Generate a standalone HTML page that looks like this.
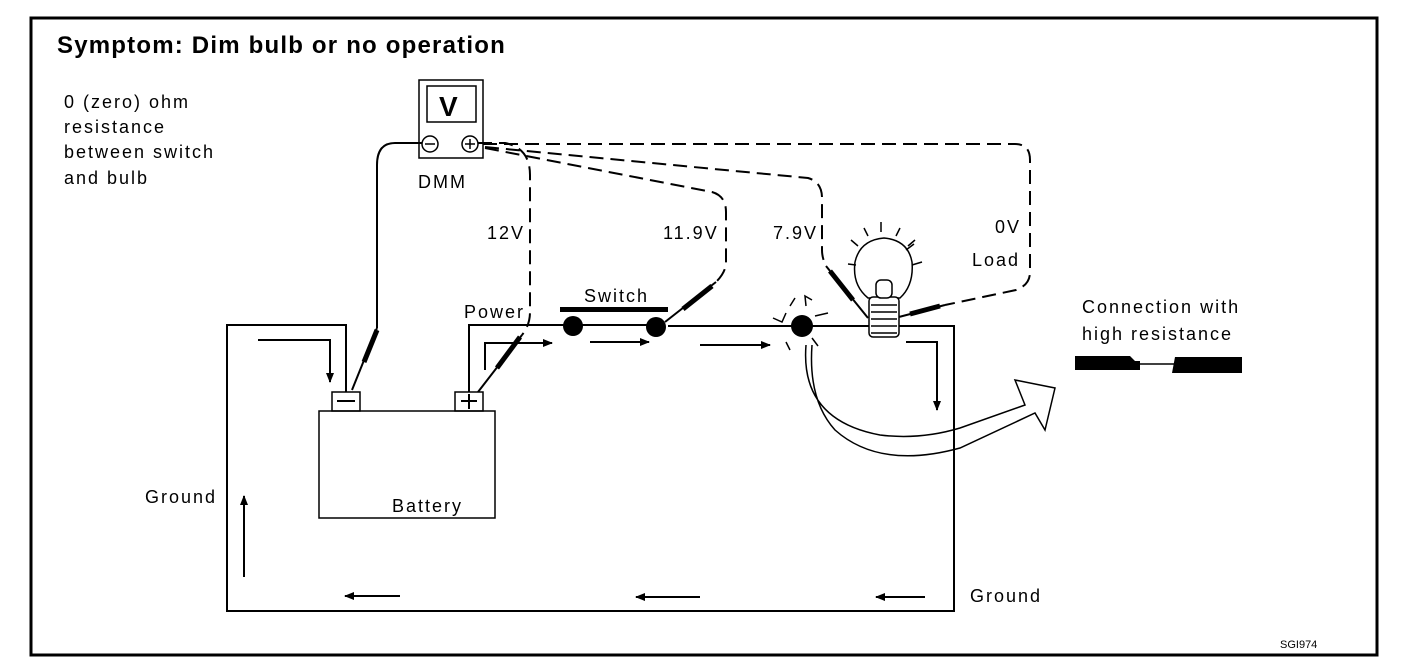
<!DOCTYPE html>
<html><head><style>
html,body{margin:0;padding:0;background:#fff;}
svg{display:block;}
text{font-family:"Liberation Sans",Arial,sans-serif;fill:#000;}
</style></head><body>
<svg width="1408" height="670" viewBox="0 0 1408 670" xmlns="http://www.w3.org/2000/svg">
<defs>
<marker id="ah" markerWidth="10" markerHeight="8" refX="9" refY="4" orient="auto" markerUnits="userSpaceOnUse"><path d="M0,0 L10,4 L0,8 Z" fill="#000"/></marker>
</defs>
<rect x="0" y="0" width="1408" height="670" fill="#fff"/>
<rect x="31" y="18" width="1346" height="637" fill="none" stroke="#000" stroke-width="3"/>
<text x="57" y="53" font-size="24" font-weight="bold" letter-spacing="1.2">Symptom: Dim bulb or no operation</text>
<g font-size="18" letter-spacing="2">
<text x="64" y="108">0 (zero) ohm</text>
<text x="64" y="133">resistance</text>
<text x="64" y="158">between switch</text>
<text x="64" y="184">and bulb</text>
<text x="418" y="188">DMM</text>
<text x="487" y="239">12V</text>
<text x="663" y="239">11.9V</text>
<text x="773" y="239">7.9V</text>
<text x="995" y="233">0V</text>
<text x="972" y="266">Load</text>
<text x="464" y="318">Power</text>
<text x="584" y="302">Switch</text>
<text x="1082" y="313">Connection with</text>
<text x="1082" y="340">high resistance</text>
<text x="145" y="503">Ground</text>
<text x="392" y="512">Battery</text>
<text x="970" y="602">Ground</text>
</g>
<text x="1280" y="648" font-size="11">SGI974</text>
<!-- DMM -->
<rect x="419" y="80" width="64" height="78" fill="none" stroke="#000" stroke-width="1.5"/>
<rect x="427" y="86" width="49" height="36" fill="none" stroke="#000" stroke-width="1.5"/>
<text x="439" y="116" font-size="28" font-weight="bold">V</text>
<circle cx="430" cy="144" r="8" fill="none" stroke="#000" stroke-width="1.5"/>
<line x1="425" y1="144" x2="435" y2="144" stroke="#000" stroke-width="1.5"/>
<circle cx="470" cy="144" r="8" fill="none" stroke="#000" stroke-width="1.5"/>
<path d="M465,144 H475 M470,139 V149" stroke="#000" stroke-width="1.5"/>
<!-- negative lead -->
<path d="M422,143 H395 Q377,143 377,165 V328" fill="none" stroke="#000" stroke-width="2"/>
<path d="M377,328 L352,390" stroke="#000" stroke-width="2"/>
<path d="M377,330 L364,362" stroke="#000" stroke-width="5"/>
<!-- dashed leads -->
<g fill="none" stroke="#000" stroke-width="2" stroke-dasharray="14,7">
<path d="M478,143 H505 Q530,148 530,175 V312 Q530,325 522,335"/>
<path d="M485,148 L712,192 Q726,196 726,212 V262 Q726,272 716,282"/>
<path d="M485,147 L808,178 Q822,182 822,198 V250 Q822,258 826,266"/>
<path d="M483,144 H1015 Q1030,144 1030,160 V272 Q1030,285 1016,290 L945,305"/>
</g>
<!-- probes -->
<g stroke="#000">
<path d="M522,335 L478,392" stroke-width="2"/><path d="M520,337 L497,368" stroke-width="5"/>
<path d="M716,282 L665,322" stroke-width="2"/><path d="M712,286 L683,309" stroke-width="5"/>
<path d="M826,266 L868,318" stroke-width="2"/><path d="M830,271 L853,300" stroke-width="5"/>
<path d="M945,305 L895,318" stroke-width="2"/><path d="M940,306 L910,314" stroke-width="5"/>
</g>
<!-- circuit -->
<g fill="none" stroke="#000" stroke-width="2">
<path d="M346,392 V325 H227 V611 H954 V326 H668"/>
<path d="M469,392 V325 H565"/>
<path d="M580,325 H648"/>
<rect x="332" y="392" width="28" height="19" stroke-width="1.5"/>
<rect x="455" y="392" width="28" height="19" stroke-width="1.5"/>
<rect x="319" y="411" width="176" height="107" stroke-width="1.5"/>
</g>
<path d="M337,401 H355" stroke="#000" stroke-width="2"/>
<path d="M461,401 H477 M469,394 V409" stroke="#000" stroke-width="2"/>
<!-- switch -->
<rect x="560" y="307" width="108" height="5" fill="#000"/>
<circle cx="573" cy="326" r="10" fill="#000"/>
<circle cx="656" cy="327" r="10" fill="#000"/>
<circle cx="802" cy="326" r="11" fill="#000"/>
<!-- sparks -->
<g stroke="#000" stroke-width="1.5" fill="none">
<path d="M773,318 L782,322 L786,313 M790,306 L795,298 M806,306 L805,296 L812,300 M815,316 L828,313 M786,342 L790,350 M812,338 L818,346"/>
</g>
<!-- bulb -->
<g stroke="#000" stroke-width="1.5" fill="#fff">
<path d="M868,298 Q852,285 855,262 Q860,240 884,238 Q908,240 912,262 Q914,285 900,298 Z"/>
<rect x="869" y="297" width="30" height="40" rx="4"/>
<path d="M871,305 H897 M871,312 H897 M871,319 H897 M871,326 H897 M871,333 H897" fill="none"/>
<rect x="876" y="280" width="16" height="18" rx="5"/>
<path d="M881,222 V232 M864,228 L868,236 M900,228 L896,236 M851,240 L858,246 M915,240 L908,246 M848,264 L856,265 M912,265 L922,262 M906,250 L914,244"/>
</g>
<!-- current arrows -->
<g stroke="#000" stroke-width="2" fill="none" marker-end="url(#ah)">
<path d="M258,340 H330 V382"/>
<path d="M485,370 V343 H552"/>
<path d="M590,342 H649"/>
<path d="M700,345 H770"/>
<path d="M906,342 H937 V410"/>
<path d="M400,596 H345"/>
<path d="M700,597 H636"/>
<path d="M925,597 H876"/>
<path d="M244,577 V496"/>
</g>
<!-- curved big arrow -->
<path d="M806,345 Q800,420 880,435 Q920,440 960,428 L1025,405 L1015,380 L1055,388 L1045,430 L1035,413 L960,448 Q880,470 835,430 Q808,400 812,345" fill="none" stroke="#000" stroke-width="1.5"/>
<!-- damaged wire -->
<path d="M1075,356 H1130 L1135,361 H1140 V370 H1075 Z" fill="#000"/>
<path d="M1140,364 H1175" stroke="#000" stroke-width="1.5"/>
<path d="M1175,357 H1242 V373 H1172 Z" fill="#000"/>
</svg>
</body></html>
